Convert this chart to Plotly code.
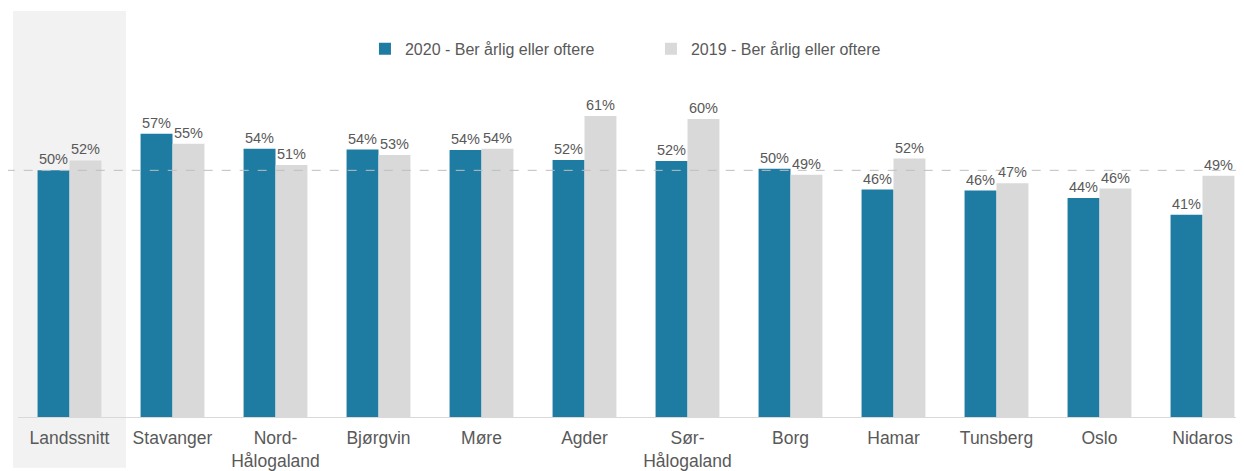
import plotly.graph_objects as go

categories = ["Landssnitt", "Stavanger", "Nord-<br>Hålogaland", "Bjørgvin", "Møre", "Agder",
              "Sør-<br>Hålogaland", "Borg", "Hamar", "Tunsberg", "Oslo", "Nidaros"]
values_2020 = [50.0, 57.4, 54.4, 54.2, 54.1, 52.1, 51.9, 50.3, 46.1, 45.9, 44.4, 41.0]
values_2019 = [52.0, 55.4, 51.1, 53.1, 54.4, 61.0, 60.4, 49.1, 52.4, 47.4, 46.3, 48.9]
series_names = ["2020 - Ber årlig eller oftere", "2019 - Ber årlig eller oftere"]

BLUE = "#1E7BA2"
GRAY = "#D9D9D9"
TEXT = "#595959"
FONT = "Liberation Sans, Arial, sans-serif"

fig = go.Figure()
for name, vals, color in [(series_names[0], values_2020, BLUE),
                          (series_names[1], values_2019, GRAY)]:
    fig.add_trace(go.Bar(
        x=categories, y=vals, name=name, marker_color=color, marker_line_width=0,
        texttemplate="%{y:.0f}%", textposition="outside", cliponaxis=False,
        textfont=dict(size=14.5, color=TEXT, family=FONT),
    ))

# shaded band behind the national average
fig.add_shape(type="rect", xref="paper", yref="paper", x0=-0.0041, x1=0.0881,
              y0=-0.125, y1=1, fillcolor="#F2F2F2", line_width=0, layer="below")
# dashed reference line at the national 2020 level
fig.add_shape(type="line", xref="paper", yref="y", x0=-0.01, x1=1,
              y0=values_2020[0], y1=values_2020[0],
              line=dict(color="#BFBFBF", width=1, dash="dash"), layer="above")

# page body adds an 8px margin, so the figure is 8px smaller each way
fig.update_layout(
    width=1236, height=463,
    margin=dict(l=10, r=0, t=3, b=51),
    barmode="group", bargap=0.38, bargroupgap=0,
    plot_bgcolor="rgba(0,0,0,0)", paper_bgcolor="white",
    font=dict(family=FONT, color=TEXT),
    legend=dict(orientation="h", x=0.283, xanchor="left", y=0.907, yanchor="middle",
                font=dict(size=16, color=TEXT), entrywidth=241, entrywidthmode="pixels",
                bgcolor="rgba(0,0,0,0)"),
    xaxis=dict(range=[-0.5, 11.403], showline=True, linecolor=GRAY, linewidth=1,
               tickfont=dict(size=17.5, color=TEXT), ticks="", showgrid=False,
               ticklabelstandoff=5),
    yaxis=dict(range=[0, 82.3], visible=False, showgrid=False, zeroline=False),
)

fig.write_html("out.html")
